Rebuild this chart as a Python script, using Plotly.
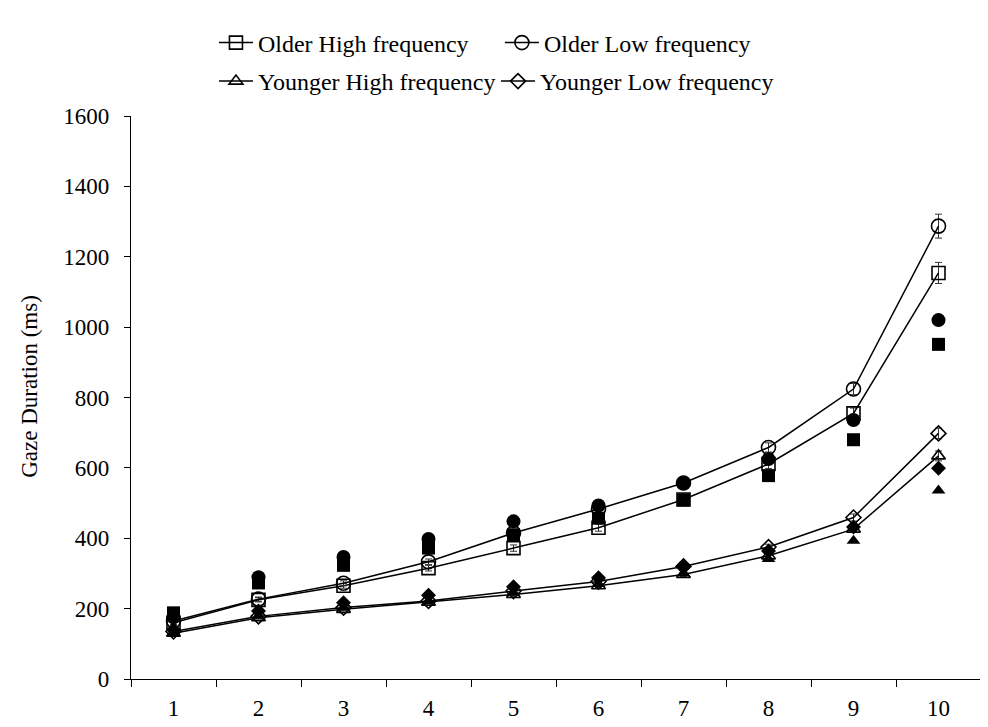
import plotly.graph_objects as go

positions = ["1", "2", "3", "4", "5", "6", "7", "8", "9", "10"]

older_high = [160, 225, 265, 315, 372, 430, 510, 611, 755, 1154]
older_low = [165, 227, 272, 333, 415, 483, 557, 658, 824, 1287]
younger_high = [130, 174, 198, 218, 240, 265, 297, 350, 426, 634]
younger_low = [135, 178, 203, 222, 250, 277, 320, 375, 459, 698]

older_high_err = [5, 6, 7, 8, 9, 10, 11, 13, 15, 30]
older_low_err = [5, 6, 7, 8, 9, 10, 11, 13, 16, 34]
younger_high_err = [3, 4, 4, 4, 5, 5, 6, 7, 9, 14]
younger_low_err = [3, 4, 4, 5, 5, 6, 6, 8, 10, 15]

pred_older_high = [188, 273, 323, 372, 410, 457, 509, 578, 680, 951]
pred_older_low = [175, 289, 347, 398, 448, 493, 556, 625, 736, 1020]
pred_younger_high = [130, 180, 203, 220, 245, 270, 300, 341, 393, 536]
pred_younger_low = [140, 193, 217, 238, 262, 288, 322, 364, 432, 599]

FONT = "Liberation Serif"
fig = go.Figure()

obs = [
    ("Older High frequency", older_high, older_high_err, "square-open", 13, "legend"),
    ("Older Low frequency", older_low, older_low_err, "circle-open", 14, "legend2"),
    ("Younger High frequency", younger_high, younger_high_err, "triangle-up-open", 12, "legend3"),
    ("Younger Low frequency", younger_low, younger_low_err, "diamond-open", 11.5, "legend4"),
]
for name, vals, err, sym, size, leg in obs:
    fig.add_trace(go.Scatter(
        x=positions, y=vals, name=name, mode="lines+markers",
        line=dict(color="black", width=1.5),
        marker=dict(symbol=sym, size=size, color="black", line=dict(width=1.6, color="black")),
        error_y=dict(type="data", array=err, visible=True, color="#333333", thickness=1, width=3.5),
        legend=leg,
    ))

pred = [
    (pred_older_high, "square", 13),
    (pred_older_low, "circle", 14),
    (pred_younger_high, "triangle-up", 12),
    (pred_younger_low, "diamond", 11.5),
]
for vals, sym, size in pred:
    fig.add_trace(go.Scatter(
        x=positions, y=vals, mode="markers", showlegend=False,
        marker=dict(symbol=sym, size=size, color="black", line=dict(width=0)),
    ))

def leg(x, y):
    return dict(x=x, y=y, xanchor="left", yanchor="middle", orientation="h",
                bgcolor="rgba(0,0,0,0)", font=dict(family=FONT, size=24, color="black"),
                itemwidth=34, tracegroupgap=0)

fig.update_layout(
    width=988, height=727,
    margin=dict(l=123, r=15, t=105, b=56),
    paper_bgcolor="white", plot_bgcolor="white",
    font=dict(family=FONT, size=23, color="black"),
    legend=leg(0.0976, 1.1297),
    legend2=leg(0.434, 1.1297),
    legend3=leg(0.0976, 1.0613),
    legend4=leg(0.4294, 1.0613),
    xaxis=dict(type="category", range=[-0.5, 9.5], tickson="boundaries", ticks="outside",
               ticklen=7, tickcolor="black", showline=True, linecolor="black", linewidth=1.3,
               showgrid=False, zeroline=False, ticklabelstandoff=8,
               tickfont=dict(family=FONT, size=23)),
    yaxis=dict(range=[0, 1600], tickvals=[0, 200, 400, 600, 800, 1000, 1200, 1400, 1600],
               ticks="outside", ticklen=6, tickcolor="black", showline=True,
               linecolor="black", linewidth=1.3, showgrid=False, zeroline=False,
               ticklabelstandoff=10, tickfont=dict(family=FONT, size=23)),
    annotations=[dict(text="Gaze Duration (ms)", textangle=-90, xref="paper", yref="paper",
                      x=-0.1188, y=0.519, xanchor="center", yanchor="middle", showarrow=False,
                      font=dict(family=FONT, size=23, color="black"))],
    shapes=[dict(type="line", xref="paper", yref="paper", x0=-0.1494, x1=-0.1494,
                 y0=-0.2, y1=1.25, line=dict(color="#d9d9d9", width=1.5))],
)

fig.write_html("out.html")
